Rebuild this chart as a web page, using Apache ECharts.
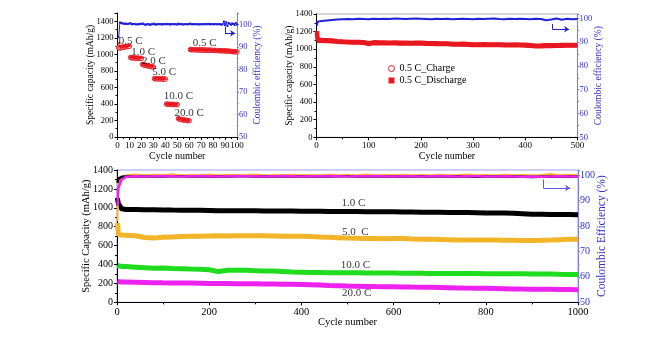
<!DOCTYPE html>
<html>
<head>
<meta charset="utf-8">
<script src="https://cdn.jsdelivr.net/npm/echarts@6/dist/echarts.min.js"></script>
<style>
  html, body { margin: 0; padding: 0; background: #fff; }
  #chart { width: 671px; height: 343px; }
</style>
</head>
<body>
<div id="chart"></div>
<script>
// ---------- Rate test (cycles 1-100) ----------
const rateCycles = Array.from({ length: 100 }, (_, i) => i + 1);
const rateDischarge = [
  1135, 1100, 1095, 1092, 1095, 1098, 1100, 1102, 1103, 1105,
  970, 965, 963, 962, 960, 960, 958, 958, 957, 956,
  885, 880, 875, 872, 868, 865, 862, 858, 855, 852,
  712, 710, 710, 709, 708, 708, 707, 706, 706, 705,
  402, 400, 399, 398, 398, 397, 396, 396, 395, 395,
  226, 220, 216, 213, 210, 208, 206, 204, 202, 200,
  1062, 1060, 1060, 1059, 1058, 1058, 1057, 1057, 1056, 1056,
  1055, 1055, 1054, 1054, 1053, 1053, 1052, 1052, 1051, 1051,
  1050, 1050, 1049, 1048, 1048, 1047, 1046, 1046, 1045, 1044,
  1043, 1042, 1041, 1040, 1038, 1037, 1036, 1035, 1034, 1033
];
const rateCharge = [
  1080, 1075, 1080, 1085, 1088, 1090, 1092, 1094, 1096, 1098,
  962, 958, 957, 956, 955, 954, 953, 952, 951, 950,
  878, 873, 869, 865, 862, 858, 855, 852, 849, 846,
  706, 705, 704, 704, 703, 703, 702, 702, 701, 701,
  398, 396, 395, 395, 394, 394, 393, 393, 392, 392,
  222, 216, 212, 209, 206, 204, 202, 200, 199, 197,
  1058, 1057, 1056, 1056, 1055, 1055, 1054, 1054, 1053, 1053,
  1052, 1052, 1051, 1051, 1050, 1050, 1049, 1049, 1048, 1048,
  1047, 1047, 1046, 1045, 1045, 1044, 1043, 1043, 1042, 1041,
  1040, 1039, 1038, 1037, 1035, 1034, 1033, 1032, 1031, 1030
];
const rateCE = [
  94.2, 100.8, 100.6, 100.4, 100.3, 100.2, 100.3, 100.1, 100.2, 100.3,
  100.5, 100.0, 100.1, 100.2, 100.0, 99.9, 100.1, 100.0, 100.2, 100.1,
  100.4, 100.0, 99.8, 99.9, 100.0, 100.1, 99.7, 99.9, 100.2, 100.0,
  100.3, 99.8, 100.0, 100.1, 100.0, 100.1, 99.9, 100.0, 100.1, 100.0,
  100.2, 100.0, 100.1, 99.9, 100.0, 100.1, 100.0, 100.1, 100.0, 99.9,
  100.3, 100.0, 100.1, 100.0, 99.9, 100.0, 100.1, 100.0, 100.0, 100.1,
  100.3, 100.0, 100.0, 100.1, 100.0, 100.0, 100.1, 99.9, 100.0, 100.0,
  100.1, 100.0, 100.0, 100.1, 100.0, 100.2, 100.0, 100.0, 100.1, 100.0,
  100.0, 100.1, 100.0, 100.0, 100.1, 100.0, 99.8, 100.0, 101.2, 99.6,
  100.9, 99.2, 100.6, 100.2, 99.8, 100.4, 100.1, 99.7, 100.5, 99.9
];
// rate labels: [cycle, capacity, text]
const rateLabels = [
  [11, 1165, '0.5 C'], [21.5, 1032, '1.0 C'], [30.5, 919, '2.0 C'],
  [39, 786, '5.0 C'], [51, 496, '10.0 C'], [60, 287, '20.0 C'], [73, 1133, '0.5 C']
];

// ---------- 0.5 C cycling (500 cycles) ----------
const halfCCycles = [1, 2,
  10, 20, 30, 40, 50, 60, 70, 80, 90, 100,
  110, 120, 130, 140, 150, 160, 170, 180, 190, 200,
  210, 220, 230, 240, 250, 260, 270, 280, 290, 300,
  310, 320, 330, 340, 350, 360, 370, 380, 390, 400,
  410, 420, 430, 440, 450, 460, 470, 480, 490, 500];
const halfCDischarge = [1205, 1110,
  1105, 1102, 1098, 1092, 1088, 1085, 1083, 1082, 1080, 1068,
  1078, 1076, 1075, 1074, 1075, 1073, 1074, 1072, 1073, 1074,
  1070, 1068, 1067, 1066, 1065, 1062, 1060, 1061, 1058, 1056,
  1055, 1056, 1055, 1054, 1055, 1053, 1052, 1053, 1051, 1050,
  1046, 1040, 1041, 1044, 1045, 1046, 1047, 1048, 1049, 1048];
const halfCCharge = [1095, 1100,
  1097, 1094, 1090, 1085, 1081, 1078, 1076, 1075, 1073, 1062,
  1071, 1069, 1068, 1067, 1068, 1066, 1067, 1065, 1066, 1067,
  1063, 1061, 1060, 1059, 1058, 1055, 1053, 1054, 1051, 1049,
  1048, 1049, 1048, 1047, 1048, 1046, 1045, 1046, 1044, 1043,
  1039, 1033, 1034, 1037, 1038, 1039, 1040, 1041, 1042, 1041];
const halfCCE = [96.9, 98.6,
  98.9, 99.1, 99.3, 99.5, 99.6, 99.7, 99.6, 99.8, 99.7, 99.6,
  99.8, 99.7, 99.8, 99.7, 99.9, 99.8, 99.7, 99.8, 99.9, 99.8,
  99.7, 99.6, 99.8, 99.7, 99.8, 99.6, 99.7, 99.8, 99.7, 99.6,
  99.8, 99.7, 99.8, 99.9, 99.7, 99.6, 99.8, 99.7, 99.8, 99.7,
  99.6, 99.8, 99.7, 99.2, 99.5, 99.9, 99.4, 99.8, 99.6, 99.7];

// ---------- Long cycling at different rates (1000 cycles) ----------
const longCycles = [1, 3, 10,
  20, 40, 60, 80, 100, 120, 140, 160, 180, 200,
  220, 240, 260, 280, 300, 320, 340, 360, 380, 400,
  420, 440, 460, 480, 500, 520, 540, 560, 580, 600,
  620, 640, 660, 680, 700, 720, 740, 760, 780, 800,
  820, 840, 860, 880, 900, 920, 940, 960, 980, 1000];
const cap1C = [1100, 1040, 990,
  982, 982, 980, 980, 978, 976, 975, 974, 973, 972,
  970, 970, 969, 968, 968, 967, 966, 966, 965, 964,
  963, 963, 962, 961, 960, 960, 959, 958, 958, 957,
  956, 955, 954, 953, 952, 951, 950, 949, 948, 946,
  945, 944, 942, 938, 932, 931, 930, 929, 928, 927];
const cap5C = [840, 720, 712,
  710, 705, 685, 680, 688, 692, 695, 698, 700, 702,
  703, 702, 704, 705, 704, 703, 702, 700, 700, 698,
  695, 690, 688, 684, 680, 678, 676, 674, 672, 675,
  676, 670, 668, 666, 664, 662, 660, 660, 659, 658,
  658, 657, 656, 655, 655, 656, 658, 662, 666, 668];
const cap10C = [390, 385, 380,
  378, 372, 366, 360, 362, 358, 355, 352, 350, 345,
  325, 340, 340, 338, 335, 332, 330, 325, 320, 318,
  316, 315, 314, 313, 312, 312, 311, 310, 309, 309,
  308, 308, 307, 306, 306, 305, 305, 304, 304, 303,
  303, 302, 302, 301, 300, 300, 299, 296, 294, 293];
const cap20C = [220, 218, 215,
  214, 212, 210, 208, 206, 205, 204, 203, 202, 200,
  199, 198, 197, 196, 195, 194, 193, 192, 190, 188,
  185, 182, 178, 175, 172, 170, 168, 166, 165, 164,
  163, 161, 160, 158, 156, 154, 152, 150, 149, 148,
  146, 144, 142, 140, 139, 138, 137, 136, 135, 134];
const ce1C = [97.0, 98.6, 99.3,
  99.4, 99.5, 99.4, 99.5, 99.4, 99.5, 99.5, 99.4, 99.5, 99.4,
  99.5, 99.4, 99.5, 99.5, 99.4, 99.5, 99.4, 99.5, 99.4, 99.5,
  99.4, 99.5, 99.4, 99.5, 99.5, 99.4, 99.5, 99.4, 99.5, 99.4,
  99.5, 99.4, 99.5, 99.4, 99.5, 99.4, 99.5, 99.4, 99.3, 99.4,
  99.4, 99.3, 99.4, 99.3, 99.2, 99.3, 99.4, 99.3, 99.4, 99.3];
const ce5C = [82.0, 96.5, 99.2,
  99.9, 100.2, 99.8, 100.1, 99.9, 100.3, 99.8, 100.0, 99.9, 100.2,
  99.8, 100.1, 99.9, 100.0, 100.2, 99.8, 100.0, 99.9, 100.1, 99.9,
  100.0, 99.8, 100.1, 99.9, 100.0, 99.9, 100.2, 99.8, 100.0, 99.9,
  100.1, 99.9, 100.0, 99.8, 100.1, 99.9, 100.0, 100.2, 99.9, 100.0,
  99.8, 100.1, 99.9, 100.0, 99.9, 100.0, 100.4, 99.9, 100.1, 99.9];
const ce10C = [93.0, 97.5, 99.0,
  99.7, 99.6, 99.8, 99.7, 99.6, 99.8, 99.7, 99.6, 99.7, 99.8,
  99.6, 99.7, 99.8, 99.6, 99.7, 99.7, 99.6, 99.8, 99.7, 99.6,
  99.7, 99.8, 99.6, 99.7, 99.7, 99.6, 99.8, 99.7, 99.6, 99.7,
  99.8, 99.6, 99.7, 99.7, 99.6, 99.8, 99.7, 99.6, 99.7, 99.6,
  99.7, 99.6, 99.7, 99.6, 99.5, 99.6, 99.7, 99.6, 99.5, 99.6];
const ce20C = [88.0, 95.0, 98.2,
  99.3, 99.5, 99.4, 99.5, 99.6, 99.5, 99.4, 99.5, 99.6, 99.5,
  99.4, 99.5, 99.6, 99.5, 99.5, 99.4, 99.5, 99.6, 99.5, 99.4,
  99.5, 99.5, 99.6, 99.5, 99.4, 99.5, 99.5, 99.6, 99.5, 99.4,
  99.5, 99.5, 99.4, 99.5, 99.6, 99.5, 99.4, 99.5, 99.5, 99.4,
  99.4, 99.5, 99.4, 99.3, 99.4, 99.3, 99.4, 99.5, 99.4, 99.3];
const longLabels = [
  [513, 1054, '1.0 C'], [517, 747, '5.0  C'], [517, 395, '10.0 C'], [520, 95, '20.0 C']
];

// "points to the right axis" arrows, in data units: [x, yTop, yBottom, xEnd]
const arrowA = [90, 98.8, 96.0, 98.5];
const arrowB = [452, 97.6, 95.4, 484];
const arrowC = [925, 98.3, 94.9, 983];

// ---------- styling ----------
const serif = '"Liberation Serif", "Times New Roman", serif';
const RED = '#e81820';
const BLUE = '#2020d8';
const AXIS_BLUE = '#7c7cf0';
const LABEL_BLUE = '#3030c8';

const pairs = (xs, ys) => xs.map((x, i) => [x, ys[i]]);

function leftAxis(gridIndex, max, fs, name, nameGap, nameFs) {
  return {
    type: 'value', gridIndex, min: 0, max, interval: 200, position: 'left',
    name, nameLocation: 'middle', nameGap, nameMoveOverlap: false,
    nameTextStyle: { fontFamily: serif, fontSize: nameFs, color: '#000' },
    axisLine: { show: true, lineStyle: { color: '#000', width: 1 } },
    axisTick: { show: true, length: 3, lineStyle: { color: '#000' } },
    minorTick: { show: true, splitNumber: 2, length: 2, lineStyle: { color: '#000' } },
    axisLabel: { fontFamily: serif, fontSize: fs, color: '#000', margin: 4,
      formatter: v => (v % 200 === 0 ? String(v) : '') },
    splitLine: { show: false }, minorSplitLine: { show: false }
  };
}
function rightAxis(gridIndex, max, fs, name, nameGap, nameFs) {
  return {
    type: 'value', gridIndex, min: 50, max, interval: 10, position: 'right',
    name, nameLocation: 'middle', nameGap, nameMoveOverlap: false,
    nameTextStyle: { fontFamily: serif, fontSize: nameFs, color: LABEL_BLUE },
    axisLine: { show: true, lineStyle: { color: AXIS_BLUE, width: 1 } },
    axisTick: { show: true, length: 2, lineStyle: { color: AXIS_BLUE } },
    minorTick: { show: true, splitNumber: 2, length: 1.5, lineStyle: { color: AXIS_BLUE } },
    axisLabel: { fontFamily: serif, fontSize: fs, color: LABEL_BLUE, margin: 2,
      formatter: v => (v % 10 === 0 ? String(v) : '') },
    splitLine: { show: false }, minorSplitLine: { show: false }
  };
}
function bottomAxis(gridIndex, max, interval, fs, nameFs) {
  return {
    type: 'value', gridIndex, min: 0, max, interval,
    name: 'Cycle number', nameLocation: 'middle', nameGap: 14, nameMoveOverlap: false,
    nameTextStyle: { fontFamily: serif, fontSize: nameFs, color: '#000' },
    axisLine: { show: true, onZero: false, lineStyle: { color: '#000', width: 1 } },
    axisTick: { show: true, length: 3, lineStyle: { color: '#000' } },
    minorTick: { show: true, splitNumber: 2, length: 2, lineStyle: { color: '#000' } },
    axisLabel: { fontFamily: serif, fontSize: fs, color: '#000', margin: 4, interval: 0,
      formatter: v => String(v) },
    splitLine: { show: false }, minorSplitLine: { show: false }
  };
}
function arrowLine(a, color) {
  return {
    silent: true, animation: false,
    lineStyle: { color, width: 1, type: 'solid' },
    label: { show: false }, symbolSize: 5,
    data: [
      [{ coord: [a[0], a[1]], symbol: 'none' }, { coord: [a[0], a[2]], symbol: 'none' }],
      [{ coord: [a[0], a[2]], symbol: 'none' }, { coord: [a[3], a[2]], symbol: 'arrow' }]
    ]
  };
}
function textSeries(xIdx, yIdx, labels, fs) {
  return {
    type: 'scatter', xAxisIndex: xIdx, yAxisIndex: yIdx, silent: true,
    symbolSize: 1, itemStyle: { color: 'rgba(0,0,0,0)' }, z: 10,
    data: labels.map(l => ({ value: [l[0], l[1]], name: l[2] })),
    label: { show: true, position: 'inside', formatter: p => p.name,
      fontFamily: serif, fontSize: fs, color: '#000' }
  };
}
function capLine(name, xIdx, yIdx, xs, ys, color, width, z) {
  return {
    name, type: 'line', xAxisIndex: xIdx, yAxisIndex: yIdx,
    data: pairs(xs, ys), showSymbol: false, symbol: 'none',
    lineStyle: { color, width }, itemStyle: { color }, z: z || 3, animation: false
  };
}

const option = {
  animation: false,
  backgroundColor: '#fff',
  grid: [
    { left: 117.5, top: 13, width: 119.5, height: 124, show: false },
    { left: 316.5, top: 14, width: 261, height: 123.3, show: true, borderColor: '#a8a8a8', borderWidth: 1, backgroundColor: 'transparent' },
    { left: 117, top: 170, width: 461, height: 132.3, show: true, borderColor: '#9c9cf0', borderWidth: 1, backgroundColor: 'transparent' }
  ],
  legend: {
    data: [
      { name: '0.5 C_Charge', icon: 'circle', itemStyle: { color: '#fff', borderColor: RED, borderWidth: 1 } },
      { name: '0.5 C_Discharge', icon: 'rect', itemStyle: { color: RED } }
    ],
    orient: 'vertical', left: 383, top: 58, itemWidth: 6, itemHeight: 6, itemGap: 1,
    textStyle: { fontFamily: serif, fontSize: 10, color: '#000', lineHeight: 11 }
  },
  xAxis: [
    bottomAxis(0, 100, 10, 9, 10),
    bottomAxis(1, 500, 100, 9, 10),
    bottomAxis(2, 1000, 200, 10.5, 10.5)
  ],
  yAxis: [
    leftAxis(0, 1500, 8.5, 'Specific capacity (mAh/g)', 22, 9.5),
    rightAxis(0, 105, 8.5, 'Coulombic efficiency (%)', 15.5, 9.5),
    leftAxis(1, 1400, 8.5, 'Specific capacity (mAh/g)', 22, 9.5),
    rightAxis(1, 101.8, 8.5, 'Coulombic efficiency (%)', 15.5, 9.5),
    leftAxis(2, 1400, 10, 'Specific Capacity (mAh/g)', 25, 10.5),
    rightAxis(2, 102, 10, 'Coulombic Efficiency (%)', 17.5, 11.5)
  ],
  series: [
    // rate test
    {
      name: 'Rate charge', type: 'line', xAxisIndex: 0, yAxisIndex: 0,
      data: pairs(rateCycles, rateCharge), symbol: 'circle', symbolSize: 4.5,
      lineStyle: { width: 0, opacity: 0 },
      itemStyle: { color: '#fff', borderColor: RED, borderWidth: 1 }, z: 3
    },
    {
      name: 'Rate discharge', type: 'line', xAxisIndex: 0, yAxisIndex: 0,
      data: pairs(rateCycles, rateDischarge), symbol: 'rect', symbolSize: 2.5,
      lineStyle: { width: 0, opacity: 0 },
      itemStyle: { color: RED }, z: 4
    },
    {
      name: 'Rate CE', type: 'line', xAxisIndex: 0, yAxisIndex: 1,
      data: pairs(rateCycles, rateCE), symbol: 'rect', symbolSize: 2,
      lineStyle: { color: BLUE, width: 1 }, itemStyle: { color: BLUE }, z: 5,
      markLine: arrowLine(arrowA, BLUE)
    },
    textSeries(0, 0, rateLabels, 11),

    // 0.5 C cycling
    capLine('0.5 C_Charge', 1, 2, halfCCycles, halfCCharge, RED, 4.5, 3),
    capLine('0.5 C_Discharge', 1, 2, halfCCycles, halfCDischarge, RED, 4.5, 4),
    {
      name: '0.5 C CE', type: 'line', xAxisIndex: 1, yAxisIndex: 3,
      data: pairs(halfCCycles, halfCCE), showSymbol: false, symbol: 'none',
      lineStyle: { color: BLUE, width: 2 }, z: 5,
      markLine: arrowLine(arrowB, BLUE)
    },

    // long cycling
    capLine('1.0 C', 2, 4, longCycles, cap1C, '#000000', 5),
    capLine('5.0 C', 2, 4, longCycles, cap5C, '#f2b52a', 5),
    capLine('10.0 C', 2, 4, longCycles, cap10C, '#1fdc1f', 5),
    capLine('20.0 C', 2, 4, longCycles, cap20C, '#ee22ee', 5),
    capLine('10.0 C CE', 2, 5, longCycles, ce10C, '#40e060', 2, 4),
    capLine('5.0 C CE', 2, 5, longCycles, ce5C, '#f2b52a', 2, 4),
    capLine('1.0 C CE', 2, 5, longCycles, ce1C, '#000000', 2.5, 5),
    Object.assign(capLine('20.0 C CE', 2, 5, longCycles, ce20C, '#ee22ee', 2.5, 6),
      { markLine: arrowLine(arrowC, '#5a5ae6') }),
    textSeries(2, 4, longLabels, 11)
  ]
};

const chart = echarts.init(document.getElementById('chart'), null, { renderer: 'canvas' });
chart.setOption(option);
</script>
</body>
</html>
